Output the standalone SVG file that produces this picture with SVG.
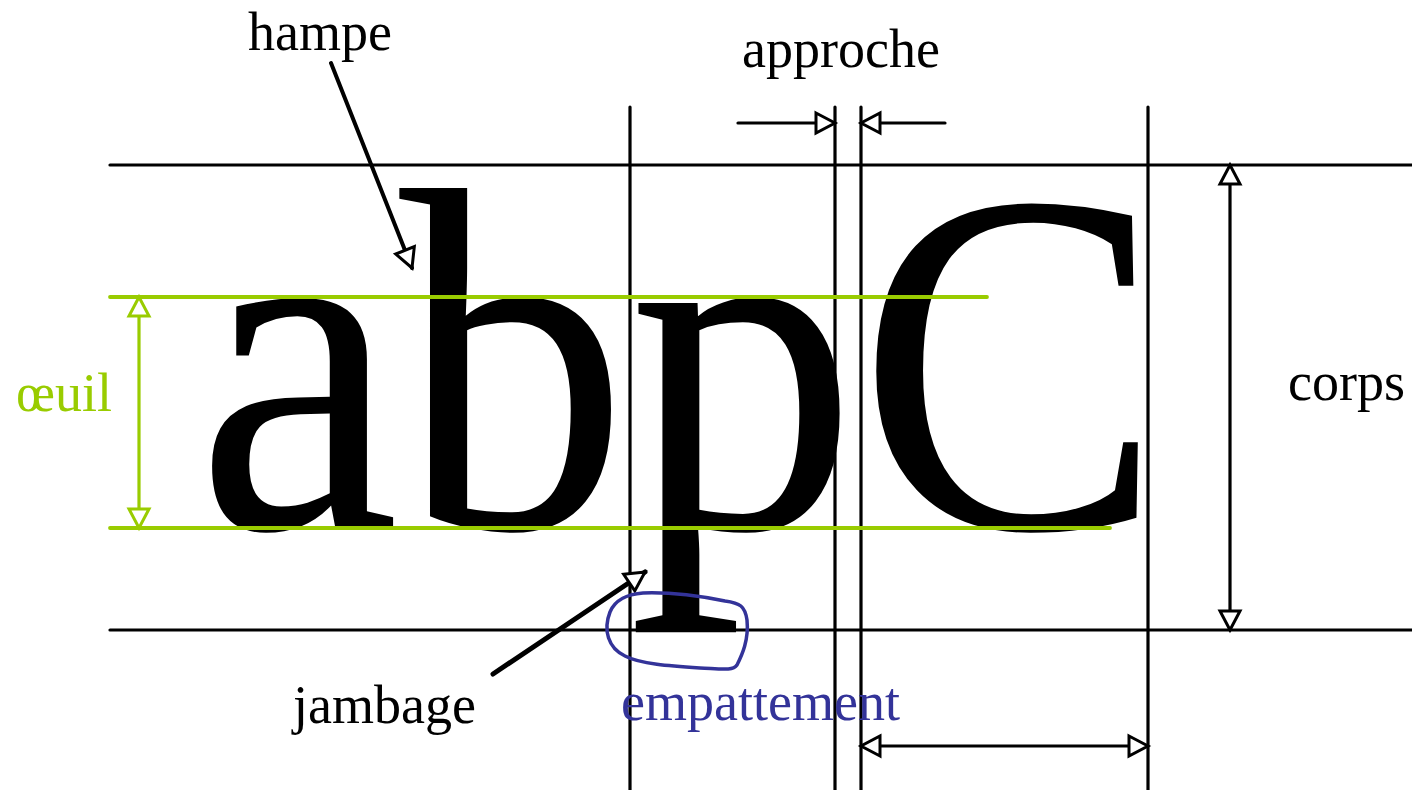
<svg xmlns="http://www.w3.org/2000/svg" width="1412" height="790" viewBox="0 0 1412 790">
<style>
.serif{font-family:"Liberation Serif","Times New Roman",serif}
.lbl{font-size:54px;fill:#000}
.grn{fill:#99cc00}
.blu{fill:#333399}
.ln{stroke:#000;stroke-width:3.2;stroke-linecap:round;fill:none}
.gln{stroke:#99cc00;stroke-width:3.8;stroke-linecap:round;fill:none}
.arr{stroke:#000;stroke-width:3.2;stroke-linecap:round;fill:none}
.garr{stroke:#99cc00;stroke-width:3.2;stroke-linecap:round;fill:none}
</style>
<defs>
<marker id="tri" markerUnits="userSpaceOnUse" markerWidth="26" markerHeight="26" viewBox="-3 -3 26 26" refX="19" refY="10" orient="auto-start-reverse">
<path d="M0,0 L19,10 L0,20 Z" fill="#fff" stroke="#000" stroke-width="3"/>
</marker>
<marker id="gtri" markerUnits="userSpaceOnUse" markerWidth="26" markerHeight="26" viewBox="-3 -3 26 26" refX="19" refY="10" orient="auto-start-reverse">
<path d="M0,0 L19,10 L0,20 Z" fill="#fff" stroke="#99cc00" stroke-width="3"/>
</marker>
</defs>
<rect width="1412" height="790" fill="#fff"/>

<g id="guides">
<line class="ln" x1="110" y1="165" x2="1412" y2="165"/>
<line class="ln" x1="110" y1="630" x2="1412" y2="630"/>
<line class="ln" x1="630" y1="107" x2="630" y2="790"/>
<line class="ln" x1="835" y1="107" x2="835" y2="790"/>
<line class="ln" x1="861" y1="107" x2="861" y2="790"/>
<line class="ln" x1="1148" y1="107" x2="1148" y2="790"/>
</g>

<g id="letters">
<text class="serif" transform="translate(196,528) scale(0.935,1)" font-size="490" fill="#000">abpC</text>
</g>

<g id="green-lines">
<line class="gln" x1="110" y1="297" x2="987" y2="297"/>
<line class="gln" x1="110" y1="528" x2="1110" y2="528"/>
</g>

<g id="connectors">
<line class="arr" x1="738" y1="123" x2="835" y2="123" marker-end="url(#tri)"/>
<line class="arr" x1="945" y1="123" x2="861" y2="123" marker-end="url(#tri)"/>
<line class="arr" x1="1230" y1="165" x2="1230" y2="630" marker-start="url(#tri)" marker-end="url(#tri)"/>
<line class="arr" x1="861" y1="746" x2="1148" y2="746" marker-start="url(#tri)" marker-end="url(#tri)"/>
<line class="garr" x1="139" y1="297" x2="139" y2="528" marker-start="url(#gtri)" marker-end="url(#gtri)"/>
<line class="arr" style="stroke-width:4" x1="331" y1="63" x2="412" y2="268" marker-end="url(#tri)"/>
<line class="arr" style="stroke-width:5" x1="493" y1="674" x2="645" y2="572" marker-end="url(#tri)"/>
</g>

<g id="empattement-loop">
<path d="M643,593 C670,592 700,596 725,601 C740,603 745,606 747,620 C749,640 742,655 737,665 C733,671 722,669 700,668 C670,666 640,664 625,656 C608,648 603,630 610,612 C615,600 628,594 643,593 Z" fill="none" stroke="#333399" stroke-width="3.5" stroke-linejoin="round"/>
</g>

<g id="labels">
<text id="hampe" class="serif lbl" x="248" y="50">hampe</text>
<text id="approche" class="serif lbl" x="742" y="67">approche</text>
<text id="corps" class="serif lbl" x="1288" y="400">corps</text>
<text id="oeil" class="serif lbl grn" x="16" y="411">œuil</text>
<text id="jambage" class="serif lbl" x="293" y="723">jambage</text>
<text id="empattement" class="serif lbl blu" x="621" y="720">empattement</text>
</g>
</svg>
